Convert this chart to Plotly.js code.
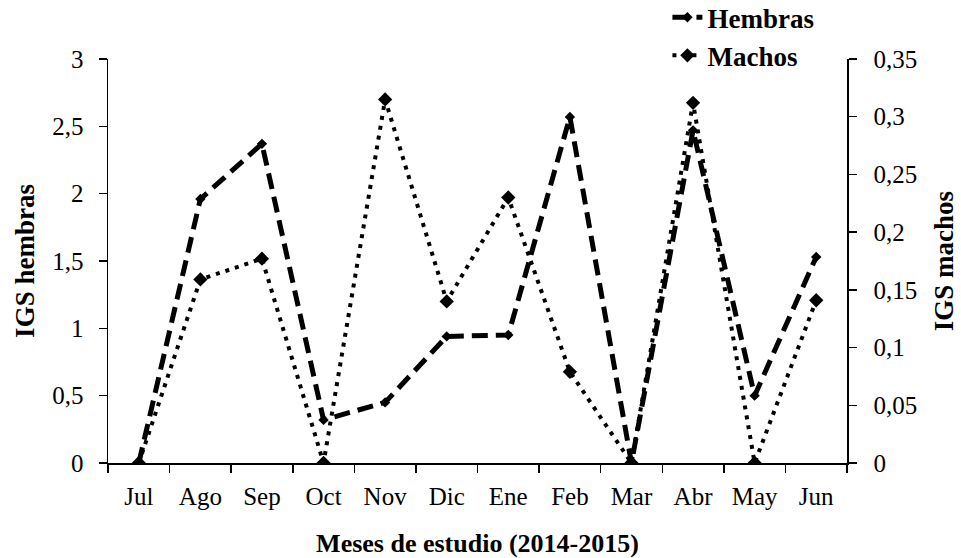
<!DOCTYPE html>
<html>
<head>
<meta charset="utf-8">
<script src="https://cdn.plot.ly/plotly-3.0.1.min.js"></script>
<style>
  html, body { margin: 0; padding: 0; background: #fff; }
  #chart { width: 961px; height: 558px; }
</style>
</head>
<body>
<div id="chart"></div>
<script>
// Monthly gonadosomatic index (IGS), July 2014 – June 2015
const months = ["Jul", "Ago", "Sep", "Oct", "Nov", "Dic", "Ene", "Feb", "Mar", "Abr", "May", "Jun"];
const igsHembras = [0, 1.96, 2.37, 0.32, 0.45, 0.94, 0.95, 2.57, 0, 2.47, 0.5, 1.53];
const igsMachos = [0, 0.159, 0.177, 0, 0.315, 0.14, 0.23, 0.079, 0, 0.312, 0, 0.141];

const serif = "Liberation Serif, Times New Roman, serif";

const traces = [
  {
    x: months, y: igsHembras, name: "Hembras", type: "scatter", mode: "lines+markers",
    line: { color: "#000", width: 5, dash: "16px,8px" },
    marker: { symbol: "diamond", size: 8, color: "#000" },
    yaxis: "y"
  },
  {
    x: months, y: igsMachos, name: "Machos", type: "scatter", mode: "lines+markers",
    line: { color: "#000", width: 4, dash: "4px,6px" },
    marker: { symbol: "diamond", size: 11, color: "#000" },
    yaxis: "y2"
  }
];

const axisLine = {
  showline: true, linecolor: "#000", linewidth: 1.5,
  ticks: "outside", ticklen: 8, tickcolor: "#000", tickwidth: 1.5,
  showgrid: false, zeroline: false
};

const layout = {
  width: 961, height: 558,
  margin: { l: 108, r: 114, t: 59, b: 95, autoexpand: false },
  paper_bgcolor: "#fff", plot_bgcolor: "#fff",
  separators: ",.",
  font: { family: serif, size: 25, color: "#000" },
  showlegend: true,
  legend: {
    x: 0.757, y: 1.163, xanchor: "left", yanchor: "top",
    bgcolor: "rgba(0,0,0,0)", borderwidth: 0,
    font: { family: serif, size: 27, color: "#000", weight: "bold" },
    tracegroupgap: 0
  },
  xaxis: Object.assign({}, axisLine, {
    type: "category", range: [-0.5, 11.5], tickson: "boundaries",
    tickfont: { family: serif, size: 25, color: "#000" },
    ticklabelstandoff: 10,
    title: { text: "Meses de estudio (2014-2015)", standoff: 26,
             font: { family: serif, size: 26, color: "#000", weight: "bold" } }
  }),
  yaxis: Object.assign({}, axisLine, {
    range: [0, 3], dtick: 0.5, tick0: 0,
    tickfont: { family: serif, size: 25, color: "#000" },
    ticklabelstandoff: 10,
    title: { text: "IGS hembras", standoff: 10,
             font: { family: serif, size: 27, color: "#000", weight: "bold" } }
  }),
  yaxis2: Object.assign({}, axisLine, {
    range: [0, 0.35], dtick: 0.05, tick0: 0,
    overlaying: "y", side: "right",
    tickfont: { family: serif, size: 25, color: "#000" },
    ticklabelstandoff: 12,
    title: { text: "IGS machos", standoff: 18,
             font: { family: serif, size: 27, color: "#000", weight: "bold" } }
  })
};

Plotly.newPlot("chart", traces, layout, { displayModeBar: false, staticPlot: true });
</script>
</body>
</html>
